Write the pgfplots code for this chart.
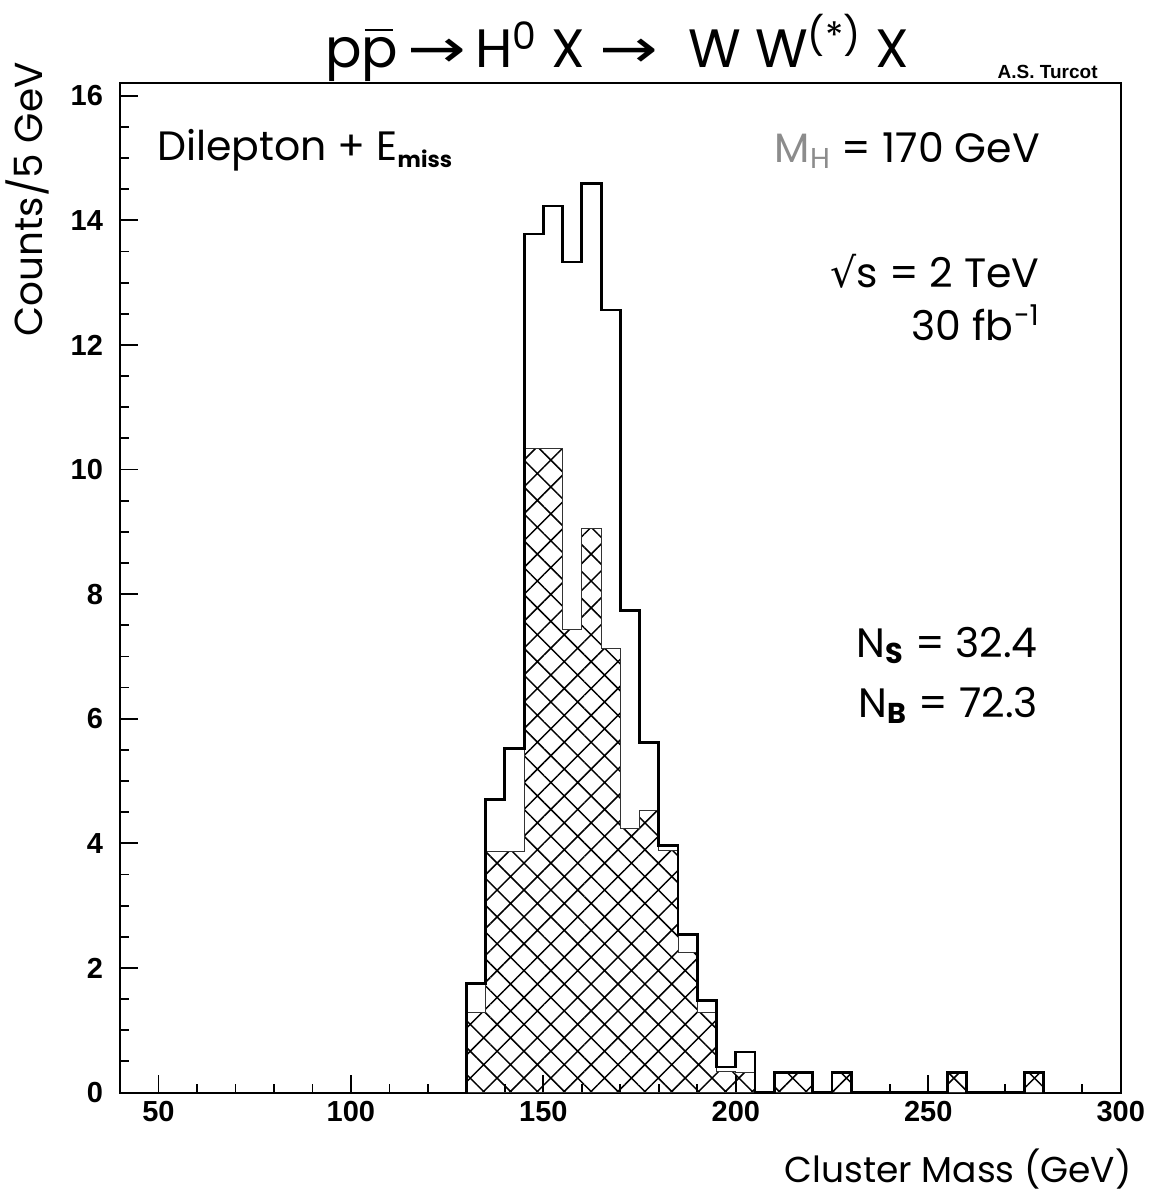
\documentclass[border=0pt]{standalone}
\usepackage{fontspec}
\setmainfont{Liberation Sans}
\newfontfamily\labelfont{Poppins}
\newfontfamily\symfont{DejaVu Sans}
\usepackage{pgfplots}
\pgfplotsset{compat=1.18}
\usetikzlibrary{patterns.meta}

% p with an overline (antiproton)
\newcommand\pbar{\leavevmode\rlap{\hspace{0.06em}\rule[0.68em]{0.52em}{0.035em}}p}
\newcommand\arr{{\symfont\scalebox{1.3}[1]{→}}}

\begin{document}
\begin{tikzpicture}
\begin{axis}[
  name=main,
  scale only axis,
  width=500.35pt, height=504.6pt,
  xmin=40, xmax=300, ymin=0, ymax=16.2,
  xtick={50,100,...,300}, ytick={0,2,...,16},
  minor x tick num=4, minor y tick num=3,
  xtick pos=bottom, ytick pos=left,
  tick align=inside,
  major tick length=9pt, minor tick length=4.5pt,
  axis line style={line width=1pt},
  every tick/.style={line width=0.9pt, black},
  tick label style={font=\fontsize{14.5}{15}\selectfont\bfseries},
  /pgf/number format/assume math mode=true,
  yticklabel style={xshift=-5pt},
  xticklabel style={yshift=-1pt},
  clip=false,
]

% background (hatched)
\addplot[const plot, draw=black!80, line width=0.5pt,
  pattern={Hatch[angle=45, distance=9.5pt, line width=0.75pt]}, pattern color=black]
  coordinates {
  (130,0) (130,1.28) (135,3.87) (140,3.87) (145,10.33) (150,10.33)
  (155,7.43) (160,9.05) (165,7.12) (170,4.23) (175,4.53) (180,3.88)
  (185,2.25) (190,1.29) (195,0.34) (200,0.32) (205,0)
  (210,0.32) (215,0.32) (220,0) (225,0.32) (230,0)
  (255,0.32) (260,0) (275,0.32) (280,0)
  } \closedcycle;

% signal + background
\addplot[const plot, draw=black, line width=1.4pt]
  coordinates {
  (130,0) (130,1.75) (135,4.70) (140,5.52) (145,13.78) (150,14.23)
  (155,13.33) (160,14.59) (165,12.56) (170,7.74) (175,5.62) (180,3.97)
  (185,2.54) (190,1.48) (195,0.41) (200,0.65) (205,0)
  (210,0.32) (215,0.32) (220,0) (225,0.32) (230,0)
  (255,0.32) (260,0) (275,0.32) (280,0)
  };

% annotations
\node[anchor=west, font=\labelfont\fontsize{20.5}{22}\selectfont]
  at (axis cs:47.8,15.12) {Dilepton + E\textsubscript{\bfseries\fontsize{11}{11}\selectfont miss}};
\node[anchor=east, font=\labelfont\fontsize{20.5}{22}\selectfont]
  at (axis cs:280.8,15.12) {{\color{black!45}M\textsubscript{H}} = 170 GeV};
\node[anchor=east, font=\labelfont\fontsize{20.5}{22}\selectfont]
  at (axis cs:280.8,13.19) {{\symfont √}s = 2 TeV};
\node[anchor=east, font=\labelfont\fontsize{20.5}{22}\selectfont]
  at (axis cs:280.8,12.36) {30 fb\textsuperscript{−1}};
\node[anchor=east, font=\labelfont\fontsize{20.5}{22}\selectfont]
  at (axis cs:280.3,7.17) {N\textsubscript{\bfseries S} = 32.4};
\node[anchor=east, font=\labelfont\fontsize{20.5}{22}\selectfont]
  at (axis cs:280.3,6.21) {N\textsubscript{\bfseries B} = 72.3};

% title and author tag
\node[anchor=base, font=\labelfont\fontsize{27}{32}\selectfont]
  at ([yshift=8pt]rel axis cs:0.497,1)
  {p\pbar\,\arr\,H\textsuperscript{0} X \arr\hspace{0.55em}W W\textsuperscript{(*)} X};
\node[anchor=base east, font=\fontsize{9.5}{10}\selectfont\bfseries]
  at ([yshift=2.5pt]rel axis cs:0.984,1) {A.S. Turcot};

% axis labels
\node[rotate=90, anchor=center, font=\labelfont\fontsize{19.5}{21}\selectfont]
  at (rel axis cs:-0.092,0.885) {Counts/5 GeV};
\node[anchor=base east, font=\labelfont\fontsize{18}{20}\selectfont]
  at ([yshift=-45pt,xshift=9pt]rel axis cs:1.0,0) {Cluster Mass (GeV)};
\end{axis}
\pgfresetboundingbox
\path ([xshift=-60pt,yshift=-53.25pt]main.south west)
  rectangle ([xshift=16.15pt,yshift=41.65pt]main.north east);
\end{tikzpicture}
\end{document}
